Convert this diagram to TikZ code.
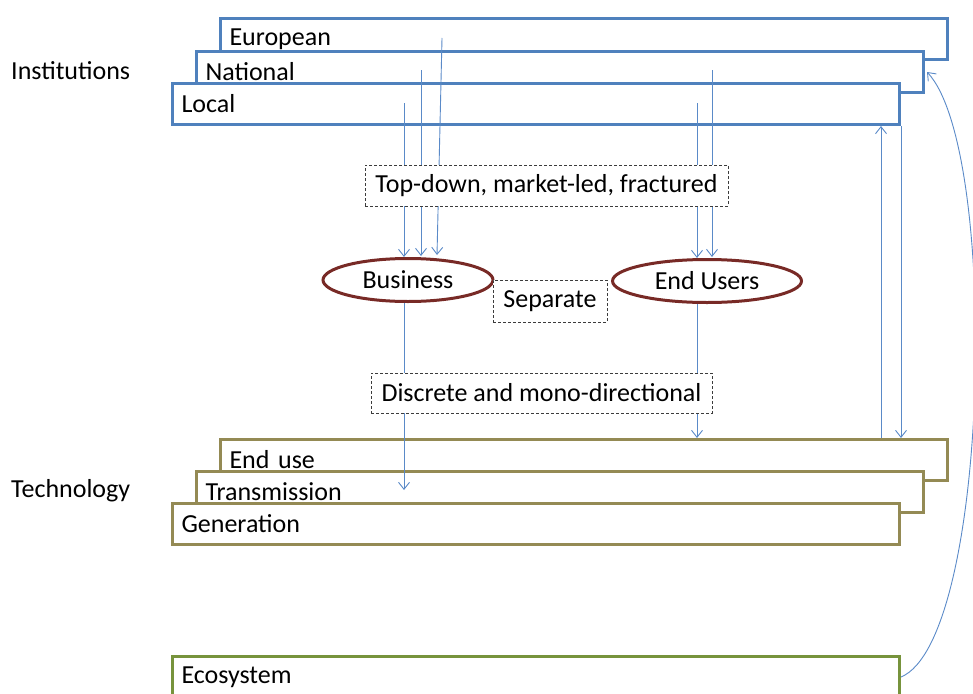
\documentclass[tikz,border=0pt]{standalone}
\usepackage{fontspec}
\setmainfont{Carlito}
\usetikzlibrary{arrows.meta,shapes.geometric,calc}
\definecolor{instblue}{RGB}{79,129,189}
\definecolor{techolive}{RGB}{148,138,84}
\definecolor{ecogreen}{RGB}{119,147,60}
\definecolor{ellred}{RGB}{120,42,38}
\definecolor{arrblue}{RGB}{90,138,200}
\definecolor{dashgray}{RGB}{60,60,60}
\begin{document}
\begin{tikzpicture}[x=1pt,y=-1pt,
  every node/.style={font=\fontsize{26}{31}\selectfont},
  layer/.style={fill=white, line width=3pt, anchor=north west, minimum height=41pt,
    inner xsep=9pt, inner ysep=0pt, text width=709pt, align=left},
  inst/.style={layer, draw=instblue},
  tech/.style={layer, draw=techolive},
  eco/.style={layer, draw=ecogreen},
  actor/.style={ellipse, draw=ellred, line width=3pt, fill=white, inner sep=0pt, minimum height=43pt},
  note/.style={draw=dashgray, dash pattern=on 3pt off 2pt, line width=1pt, fill=white, inner sep=0pt, minimum height=41pt},
  flow/.style={draw=arrblue, line width=0.9pt, -{Straight Barb[length=7pt,width=11pt]}},
  side/.style={anchor=west, inner sep=0pt}]
\useasboundingbox (0,0) rectangle (973,693);
\clip (0,0) rectangle (973,693);

% side labels
\node[side] (lInst) at (11,71) {Institutions};
\node[side] (lTech) at (11,491) {Technology};

% institution layers
\node[inst] (euro) at (219,17) {European};
\node[inst] (nat) at (195,50) {National};
\node[inst] (loc) at (171,82) {Local};

% technology layers
\node[tech] (enduse) at (219,438) {End use};
\node[tech] (trans) at (195,470) {Transmission};
\node[tech] (gen) at (171,502) {Generation};

% ecosystem
\node[eco] (ecosys) at (171,655) {Ecosystem};

% actors
\node[actor, minimum width=170pt] (bus) at (408,280) {Business};
\node[actor, minimum width=189pt] (users) at (707,281) {End Users};

% start coordinates
\coordinate (eS) at (442,38);
\coordinate (nS1) at (421,70);
\coordinate (lS1) at (404,103);
\coordinate (nS2) at (712,70);
\coordinate (lS2) at (697,103);
\coordinate (tE) at (404,490);
\coordinate (upS) at (881,438);

% top-down flows
\draw[flow] (lS1) -- (lS1 |- bus.north);
\draw[flow] (nS1) -- ([yshift=1pt]nS1 |- bus.north);
\draw[flow] (eS) -- ([xshift=29pt,yshift=2pt]bus.north);
\draw[flow] (lS2) -- (lS2 |- users.north);
\draw[flow] (nS2) -- ([yshift=1pt]nS2 |- users.north);

% downward to technology
\draw[flow] ([xshift=-4pt]bus.south) -- (tE);
\draw[flow] ([xshift=-10pt]users.south) -- ([xshift=-10pt]users.south |- enduse.north);

% right-side links
\draw[flow] (upS) -- (upS |- loc.south);
\draw[flow] (loc.south east) -- (loc.south east |- enduse.north);
\draw[flow] (ecosys.east) .. controls (990,640) and (1000,150) .. ([xshift=2pt]nat.east);

% dashed notes
\node[note, minimum width=363pt] (topdown) at (546.5,185.5) {Top-down, market-led, fractured};
\node[note, minimum width=114pt, minimum height=42pt] (sep) at (550,301) {Separate};
\node[note, minimum width=341pt, minimum height=40pt] (disc) at (541.5,393) {Discrete and mono-directional};
\end{tikzpicture}
\end{document}
